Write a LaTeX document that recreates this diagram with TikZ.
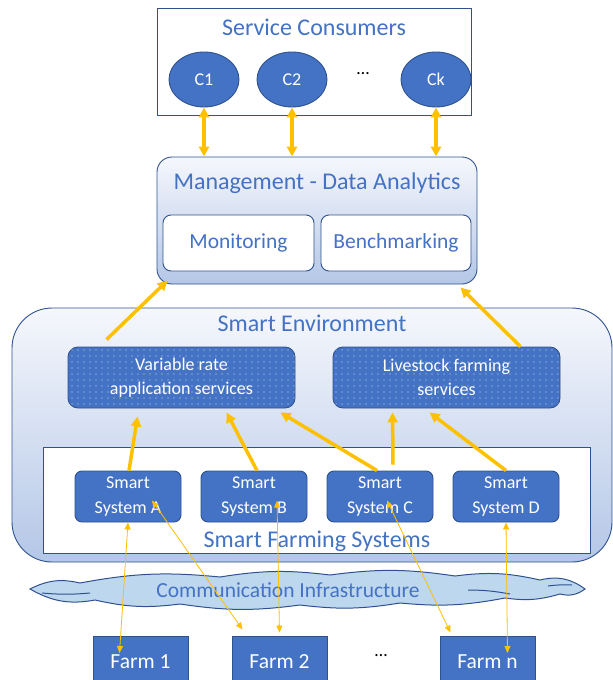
\documentclass[tikz,border=0pt]{standalone}
\usepackage{fontspec}
\setmainfont{Carlito}
\usetikzlibrary{shapes.geometric,arrows.meta,patterns.meta}
\definecolor{boxblue}{HTML}{4472C4}
\definecolor{edgeblue}{HTML}{2F528F}
\definecolor{arrowcol}{HTML}{FFC000}
\definecolor{cloudcol}{HTML}{BDD7EE}
\definecolor{shadetop}{HTML}{F5F7FC}
\definecolor{shadebot}{HTML}{B4C7E7}
\newcommand{\titlefont}{\fontsize{24}{28}\selectfont}
\newcommand{\innerfont}{\fontsize{21.5}{25}\selectfont}
\newcommand{\smallfont}{\fontsize{18}{24.5}\selectfont}

\begin{document}
\begin{tikzpicture}[x=1pt,y=-1pt,
    title/.style={text=boxblue,font=\titlefont},
    frame/.style={draw=edgeblue,line width=0.9pt,inner sep=0pt},
    shaded/.style={frame,top color=shadetop,bottom color=shadebot},
    whitebox/.style={frame,fill=white,rounded corners=8pt,text=boxblue,font=\innerfont},
    bluebox/.style={frame,fill=boxblue,text=white,font=\smallfont,align=center},
    consumer/.style={bluebox,ellipse,minimum width=70pt,minimum height=55pt},
    service/.style={bluebox,rounded corners=10pt,minimum width=227pt,minimum height=61pt,
      postaction={pattern={Dots[distance=6pt,radius=0.7pt]},pattern color=white!75!boxblue}},
    system/.style={bluebox,rounded corners=7pt,minimum width=106pt,minimum height=51pt},
    farm/.style={bluebox,minimum width=95pt,minimum height=52pt,font=\innerfont},
    cloudline/.style={draw=edgeblue,line width=1pt},
    bigarrow/.style={draw=arrowcol,line width=3.5pt,-{Triangle[length=10pt,width=10pt]}},
    duo/.style={bigarrow,{Triangle[length=10pt,width=10pt]}-{Triangle[length=10pt,width=10pt]}},
    thinduo/.style={draw=arrowcol,line width=0.8pt,{Triangle[length=7pt,width=6pt]}-{Triangle[length=7pt,width=6pt]}}]

    \clip (0,0) rectangle (613,680);

    % consommateurs
    \node[frame,fill=white,minimum width=314pt,minimum height=107pt] (consumers) at (314,61.5) {};
    \node[title] (contitle) at (314,27) {Service Consumers};
    \node[consumer] (c1) at (204,79.5) {C1};
    \node[consumer] (c2) at (292,79.5) {C2};
    \node[consumer] (ck) at (436,79.5) {Ck};
    \node[font=\smallfont] (cdots) at (363,74) {…};

    % management
    \node[shaded,rounded corners=15pt,minimum width=320pt,minimum height=127pt] (mgmt) at (317,220.5) {};
    \node[title] (mgmttitle) at (317,183) {Management - Data Analytics};
    \node[whitebox,minimum width=151pt,minimum height=56pt] (monitor) at (238.5,243) {Monitoring};
    \node[whitebox,minimum width=150pt,minimum height=56pt] (bench) at (396,243) {Benchmarking};

    \draw[duo] (c1.south) -- (c1.south |- mgmt.north);
    \draw[duo] (c2.south) -- (c2.south |- mgmt.north);
    \draw[duo] (ck.south) -- (ck.south |- mgmt.north);

    % smart environment
    \node[shaded,rounded corners=40pt,minimum width=600pt,minimum height=254pt] (smartenv) at (312,435) {};
    \node[title] (envtitle) at (312,323) {Smart Environment};
    \node[service] (varrate) at (181.5,377.5) {Variable rate\\application services};
    \node[service] (livestock) at (446.5,377.5) {Livestock farming\\services};

    \node[frame,fill=white,minimum width=547pt,minimum height=106pt] (farmsys) at (316.5,500) {};
    \node[title] (systitle) at (317,541) {Smart Farming Systems};
    \node[system] (sysA) at (128,496.5) {Smart\\System A};
    \node[system] (sysB) at (254,496.5) {Smart\\System B};
    \node[system] (sysC) at (380,496.5) {Smart\\System C};
    \node[system] (sysD) at (506,496.5) {Smart\\System D};

    \draw[bigarrow] ([xshift=39pt,yshift=7pt]varrate.north west) -- ([xshift=11pt,yshift=4pt]mgmt.south west);
    \draw[bigarrow] ([xshift=-40pt]livestock.north east) -- ([xshift=-17pt,yshift=-3pt]mgmt.south east);
    \draw[bigarrow] ([xshift=1pt]sysA.north) -- ([xshift=70pt,yshift=-8pt]varrate.south west);
    \draw[bigarrow] ([xshift=3pt]sysB.north) -- ([xshift=159pt,yshift=-4pt]varrate.south west);
    \draw[bigarrow] ([xshift=-3pt]sysC.north) -- ([xshift=-15pt,yshift=-4pt]varrate.south east);
    \draw[bigarrow] ([xshift=13pt,yshift=6pt]sysC.north) -- ([xshift=60pt,yshift=-4pt]livestock.south west);
    \draw[bigarrow] (sysD.north) -- ([xshift=97pt,yshift=-4pt]livestock.south west);

    % communication (nuage)
    \draw[cloudline,fill=cloudcol] (30,589)
        to[bend left=20] (80,583) to[bend left=8] (220,577) to[bend left=8] (330,575)
        to[bend left=8] (455,576) to[bend left=10] (540,580) to[bend left=25] (585,589)
        to[bend left=25] (560,594) to[bend left=12] (505,598) to[bend left=8] (400,603)
        to[bend left=8] (300,605) to[bend left=8] (180,604) to[bend left=10] (95,600)
        to[bend left=20] (30,589) -- cycle;
    \draw[cloudline] (42,593) to[bend right=5] (90,593);
    \draw[cloudline] (468,590) to[bend left=5] (510,594);
    \draw[cloudline] (548,586) to[bend left=5] (572,585);
    \node[text=boxblue,font=\innerfont] (comm) at (288,590) {Communication Infrastructure};

    % fermes
    \node[farm] (farm1) at (140.5,662) {Farm 1};
    \node[farm] (farm2) at (279.5,662) {Farm 2};
    \node[farm] (farmn) at (487.5,662) {Farm n};
    \node[font=\smallfont] (fdots) at (381,656) {…};

    \draw[thinduo] (sysA.south) -- ([xshift=-21pt,yshift=9pt]farm1.center);
    \draw[thinduo] ([xshift=24pt,yshift=-4pt]sysA.center) -- ([xshift=-37pt,yshift=6pt]farm2.north);
    \draw[thinduo] ([xshift=23pt,yshift=-4pt]sysB.center) -- ([yshift=3pt]farm2.north);
    \draw[thinduo] ([xshift=7pt,yshift=-4pt]sysC.center) -- ([xshift=-37pt,yshift=3pt]farmn.north);
    \draw[thinduo] (sysD.south) -- ([xshift=20pt,yshift=9pt]farmn.center);

\end{tikzpicture}
\end{document}
